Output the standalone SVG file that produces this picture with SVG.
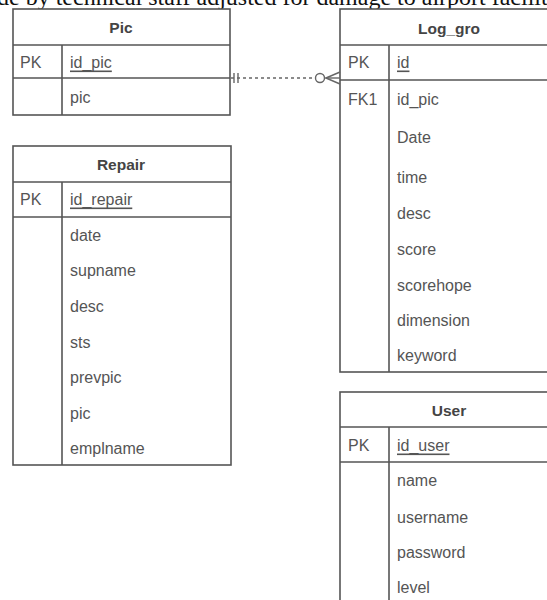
<svg xmlns="http://www.w3.org/2000/svg" width="547" height="600" viewBox="0 0 547 600">
<style>
.box{fill:#fff;stroke:#555;stroke-width:1.6}
.ln{stroke:#555;stroke-width:1.6;fill:none}
.h{font-family:"Liberation Sans",Arial,sans-serif;font-size:15.5px;font-weight:bold;fill:#444;text-anchor:middle;dominant-baseline:central}
.t{font-family:"Liberation Sans",Arial,sans-serif;font-size:16px;fill:#555;dominant-baseline:central}
.u{text-decoration:underline}
.cap{font-family:"Liberation Serif","Times New Roman",serif;font-size:24px;fill:#111}
.con{stroke:#666;stroke-width:1.4;fill:none}
</style>
<rect width="547" height="600" fill="#fff"/>
<text class="cap" x="-3" y="5">de by technical staff adjusted for damage to airport faciliti</text>

<g id="pic">
<rect class="box" x="13" y="9" width="217" height="106"/>
<line class="ln" x1="13" y1="45" x2="230" y2="45"/>
<line class="ln" x1="13" y1="78" x2="230" y2="78"/>
<line class="ln" x1="62" y1="45" x2="62" y2="115"/>
<text class="h" x="121" y="27">Pic</text>
<text class="t" x="20" y="62">PK</text>
<text class="t u" x="70" y="62">id_pic</text>
<text class="t" x="70" y="97">pic</text>
</g>

<g id="log_gro">
<rect class="box" x="340" y="9" width="220" height="363"/>
<line class="ln" x1="340" y1="45" x2="560" y2="45"/>
<line class="ln" x1="340" y1="80" x2="560" y2="80"/>
<line class="ln" x1="389" y1="45" x2="389" y2="372"/>
<text class="h" x="449" y="28">Log_gro</text>
<text class="t" x="348" y="62">PK</text>
<text class="t u" x="397" y="62">id</text>
<text class="t" x="348" y="99">FK1</text>
<text class="t" x="397" y="99">id_pic</text>
<text class="t" x="397" y="137">Date</text>
<text class="t" x="397" y="177">time</text>
<text class="t" x="397" y="213">desc</text>
<text class="t" x="397" y="249">score</text>
<text class="t" x="397" y="285">scorehope</text>
<text class="t" x="397" y="320">dimension</text>
<text class="t" x="397" y="355">keyword</text>
</g>

<g id="repair">
<rect class="box" x="13" y="146" width="218" height="319"/>
<line class="ln" x1="13" y1="182" x2="231" y2="182"/>
<line class="ln" x1="13" y1="217" x2="231" y2="217"/>
<line class="ln" x1="62" y1="182" x2="62" y2="465"/>
<text class="h" x="121" y="164">Repair</text>
<text class="t" x="20" y="199">PK</text>
<text class="t u" x="70" y="199">id_repair</text>
<text class="t" x="70" y="235">date</text>
<text class="t" x="70" y="270">supname</text>
<text class="t" x="70" y="306">desc</text>
<text class="t" x="70" y="342">sts</text>
<text class="t" x="70" y="377">prevpic</text>
<text class="t" x="70" y="413">pic</text>
<text class="t" x="70" y="448">emplname</text>
</g>

<g id="user">
<rect class="box" x="340" y="392" width="220" height="230"/>
<line class="ln" x1="340" y1="427" x2="560" y2="427"/>
<line class="ln" x1="340" y1="462" x2="560" y2="462"/>
<line class="ln" x1="389" y1="427" x2="389" y2="622"/>
<text class="h" x="449" y="410">User</text>
<text class="t" x="348" y="445">PK</text>
<text class="t u" x="397" y="445">id_user</text>
<text class="t" x="397" y="480">name</text>
<text class="t" x="397" y="517">username</text>
<text class="t" x="397" y="552">password</text>
<text class="t" x="397" y="587">level</text>
</g>

<g id="connectors">
<line class="con" x1="231" y1="78" x2="316" y2="78" stroke-dasharray="3 3"/>
<line class="con" x1="234" y1="73" x2="234" y2="83"/>
<line class="con" x1="238" y1="73" x2="238" y2="83"/>
<circle class="con" cx="320" cy="78" r="4.5" fill="#fff"/>
<line class="con" x1="325" y1="78" x2="340" y2="78"/>
<line class="con" x1="326" y1="78" x2="340" y2="72"/>
<line class="con" x1="326" y1="78" x2="340" y2="84"/>
</g>
</svg>
